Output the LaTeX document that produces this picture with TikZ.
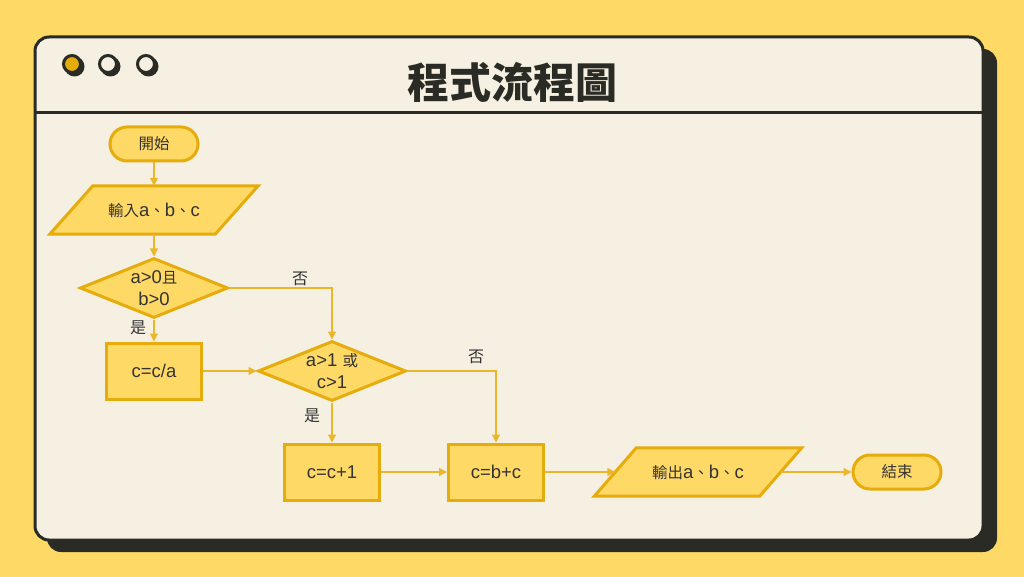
\documentclass[tikz,border=0pt]{standalone}
\usepackage{fontspec}
\setmainfont{Liberation Sans}
\newfontfamily\zh{Noto Sans CJK TC}
\newfontfamily\la{Liberation Sans}
\newcommand\zhs{\zh\fontsize{15.5}{22}\selectfont}
\newcommand\las{\la\fontsize{18.5}{22}\selectfont}
\usetikzlibrary{shapes.geometric,arrows.meta}
\definecolor{bgyellow}{HTML}{FFD966}
\definecolor{cream}{HTML}{F5F0E1}
\definecolor{dark}{HTML}{2B2B26}
\definecolor{gold}{HTML}{E5AC0C}
\definecolor{nodefill}{HTML}{FFD966}
\definecolor{linegold}{HTML}{EBB62A}
\definecolor{txt}{HTML}{333333}
\pgfdeclarelayer{bg}
\pgfdeclarelayer{mid}
\pgfsetlayers{bg,mid,main}
\tikzset{
  base/.style={fill=nodefill, draw=gold, line width=3pt, text=txt, font=\fontsize{18.5}{22}\selectfont, align=center},
  term/.style={base, rectangle, rounded corners=17pt, minimum width=88pt, minimum height=34pt, inner sep=0pt},
  proc/.style={base, rectangle, minimum width=95pt, minimum height=56pt, inner sep=0pt},
  dec/.style={base, diamond, minimum width=148pt, minimum height=60pt, inner sep=0pt},
  dectext/.style={text=txt, align=center, inner sep=0pt, font=\fontsize{18.5}{22}\selectfont},
  paratext/.style={rectangle, minimum width=165pt, minimum height=48pt, inner sep=0pt, text=txt, font=\fontsize{18.5}{22}\selectfont},
  parashape/.style={fill=nodefill, draw=gold, line width=3pt, line join=miter},
  arr/.style={draw=linegold, line width=1.2pt, -{Triangle[length=8pt,width=8pt]}},
  lbl/.style={text=txt, font=\zh\fontsize{16}{18}\selectfont, inner sep=0pt},
  dot/.style={draw=dark, line width=3pt},
}
\begin{document}
\begin{tikzpicture}[x=1pt,y=-1pt]
\begin{pgfonlayer}{bg}
\fill[bgyellow] (0,0) rectangle (1024,577);
\useasboundingbox (0,0) rectangle (1024,577);
\fill[dark, rounded corners=14pt] (47,49) rectangle (997,552);
\draw[dark, line width=3pt, fill=cream, rounded corners=14pt] (35,37) rectangle (983,540);
\draw[dark, line width=3pt] (35,113) -- (983,113);
\fill[dark] (74.5,66.5) circle (10);
\fill[dark] (110.5,66.5) circle (10);
\fill[dark] (148.5,66.5) circle (10);
\draw[dot, fill=gold] (72,64) circle (8.5);
\draw[dot, fill=cream] (108,64) circle (8.5);
\draw[dot, fill=cream] (146,64) circle (8.5);
\end{pgfonlayer}

\node[text=dark, font=\zh\bfseries\fontsize{42}{50}\selectfont] (title) at (512,82) {程式流程圖};

% nodes
\node[term] (start) at (154,144) {\zhs 開始};
\node[paratext] (in) at (154,210) {\zhs 輸入\las a\zhs 、\las b\zhs 、\las c};
\node[dec] (d1) at (154,288) {};
\node[dectext] (d1t) at (d1.center) {\las a>0\zhs 且\\\las b>0};
\node[proc] (p1) at (154,371) {\las c=c/a};
\node[dec] (d2) at (332,371) {};
\node[dectext] (d2t) at (d2.center) {\las a>1 \zhs 或\\\las c>1};
\node[proc] (p2) at (332,472) {\las c=c+1};
\node[proc] (p3) at (496,472) {\las c=b+c};
\node[paratext] (out) at (698,472) {\zhs 輸出\las a\zhs 、\las b\zhs 、\las c};
\node[term] (end) at (897,472) {\zhs 結束};

\begin{pgfonlayer}{mid}
\draw[parashape] ([xshift=-21.5pt]in.south west) -- ([xshift=-21.5pt]in.south east) -- ([xshift=21.5pt]in.north east) -- ([xshift=21.5pt]in.north west) -- cycle;
\draw[parashape] ([xshift=-21pt]out.south west) -- ([xshift=-21pt]out.south east) -- ([xshift=21pt]out.north east) -- ([xshift=21pt]out.north west) -- cycle;
\end{pgfonlayer}

% connectors
\draw[arr] (start) -- (in);
\draw[arr] (in) -- (d1);
\draw[arr] (d1) -- (p1);
\draw[arr] (d1.east) -| (d2.north);
\draw[arr] (p1) -- (d2);
\draw[arr] (d2) -- (p2);
\draw[arr] (d2.east) -| (p3.north);
\draw[arr] (p2) -- (p3);
\draw[arr] (p3) -- (out);
\draw[arr] (out) -- (end);

% labels
\node[lbl] (l1) at (300,279) {否};
\node[lbl] (l2) at (138,328) {是};
\node[lbl] (l3) at (312,416) {是};
\node[lbl] (l4) at (476,357) {否};
\end{tikzpicture}
\end{document}
